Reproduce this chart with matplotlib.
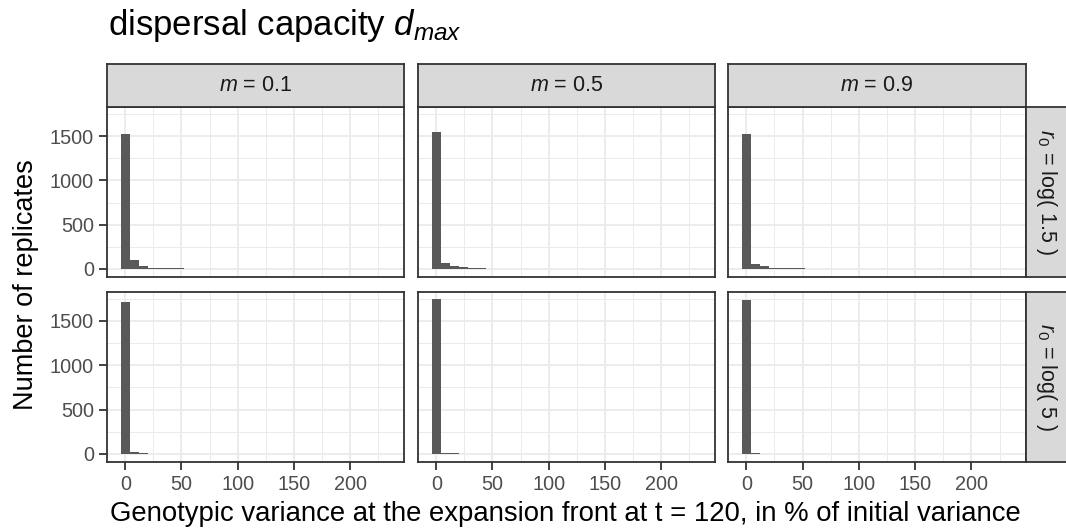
import numpy as np
import matplotlib
matplotlib.use("Agg")
import matplotlib.pyplot as plt

plt.rcParams["font.family"] = ["Liberation Sans", "DejaVu Sans"]
plt.rcParams["mathtext.fontset"] = "custom"
plt.rcParams["mathtext.rm"] = "Liberation Sans"
plt.rcParams["mathtext.it"] = "Liberation Sans:italic"

# --- data ---
bin_width = 8
bin_centers = np.arange(30) * bin_width  # 0, 8, ..., 232

m_labels = [r"$m$ = 0.1", r"$m$ = 0.5", r"$m$ = 0.9"]
r0_labels = [r"$r_{\mathit{0}}$ = log( 1.5 )", r"$r_{\mathit{0}}$ = log( 5 )"]

# counts per bin, row = r0, column = m
top_m01 = [1521, 96, 29, 8, 6, 5, 4, 3, 3, 2, 3, 2, 2] + [0] * 17
top_m05 = [1547, 70, 37, 15, 8, 4, 3, 2, 2, 2, 2, 0, 0, 2, 1, 1, 1, 1, 0, 1, 1] + [0] * 9
top_m09 = [1529, 59, 33, 12, 4, 5, 4, 3, 0, 2, 3, 2, 0, 1, 0, 2, 1] + [0] * 12 + [1]
bot_m01 = [1710, 19, 8] + [0] * 27
bot_m05 = [1744, 8, 8, 0, 4, 4] + [0] * 24
bot_m09 = [1736, 6, 0, 0, 3, 0, 3, 3] + [0] * 22

counts = [[top_m01, top_m05, top_m09],
          [bot_m01, bot_m05, bot_m09]]

x_ticks = [0, 50, 100, 150, 200]
y_ticks = [0, 500, 1000, 1500]

title = "dispersal capacity $d_{max}$"
x_title = "Genotypic variance at the expansion front at t = 120, in % of initial variance"
y_title = "Number of replicates"

# --- layout in pixels ---
W, H = 1066, 528
col_x = [(107.3, 404.0), (418.3, 715.0), (728.3, 1025.5)]
row_y = [(107.0, 276.5), (291.5, 461.7)]
strip_top = (64.0, 107.0)
strip_right = (1025.5, 1068.0)


def rect(x0, y0, x1, y1):
    return [x0 / W, 1 - y1 / H, (x1 - x0) / W, (y1 - y0) / H]


fig = plt.figure(figsize=(W / 100, H / 100), dpi=100)

ymax = max(max(c) for row in counts for c in row)
lo_x = bin_centers[0] - bin_width / 2
hi_x = bin_centers[-1] + bin_width / 2
pad_x = 0.05 * (hi_x - lo_x)
xlim = (lo_x - pad_x, hi_x + pad_x)
ylim = (-0.05 * ymax, 1.05 * ymax)

for i, (y0, y1) in enumerate(row_y):
    for j, (x0, x1) in enumerate(col_x):
        ax = fig.add_axes(rect(x0, y0, x1, y1))
        ax.set_facecolor("white")
        ax.set_xlim(*xlim)
        ax.set_ylim(*ylim)
        ax.set_xticks(x_ticks)
        ax.set_yticks(y_ticks)
        ax.set_xticks([25, 75, 125, 175, 225], minor=True)
        ax.set_yticks([250, 750, 1250, 1750], minor=True)
        ax.grid(True, which="major", color="#EBEBEB", lw=1.3)
        ax.grid(True, which="minor", color="#EBEBEB", lw=0.7)
        ax.set_axisbelow(True)
        ax.bar(bin_centers, counts[i][j], width=bin_width, color="#595959",
               edgecolor="none", zorder=2)
        for s in ax.spines.values():
            s.set_color("#333333")
            s.set_linewidth(1.3)
            s.set_zorder(5)
        ax.tick_params(which="minor", length=0)
        ax.tick_params(which="major", length=6, width=1.3, color="#333333",
                       labelsize=14.3, labelcolor="#4D4D4D", pad=3.5)
        if i == 0:
            ax.tick_params(axis="x", which="major", length=0, labelbottom=False)
        if j > 0:
            ax.tick_params(axis="y", which="major", length=0, labelleft=False)

# column strips
for j, (x0, x1) in enumerate(col_x):
    sax = fig.add_axes(rect(x0, strip_top[0], x1, strip_top[1]))
    sax.set_facecolor("#D9D9D9")
    sax.set_xticks([])
    sax.set_yticks([])
    for s in sax.spines.values():
        s.set_color("#333333")
        s.set_linewidth(1.3)
    sax.text(0.5, 0.5, m_labels[j], transform=sax.transAxes, ha="center",
             va="center", fontsize=15.5, color="#1A1A1A")

# row strips
for i, (y0, y1) in enumerate(row_y):
    sax = fig.add_axes(rect(strip_right[0], y0, strip_right[1], y1))
    sax.set_facecolor("#D9D9D9")
    sax.set_xticks([])
    sax.set_yticks([])
    for s in sax.spines.values():
        s.set_color("#333333")
        s.set_linewidth(1.3)
    sax.text(0.5, 0.5, r0_labels[i], transform=sax.transAxes, ha="center",
             va="center", rotation=-90, fontsize=15.5, color="#1A1A1A")

fig.text(108 / W, 1 - 35 / H, title, ha="left", va="baseline", fontsize=25,
         color="black")
fig.text(565 / W, 1 - 521 / H, x_title, ha="center", va="baseline",
         fontsize=19.8, color="black")
fig.text(33 / W, 1 - 284.5 / H, y_title, ha="center", va="baseline",
         rotation=90, rotation_mode="anchor", fontsize=19.5, color="black")

fig.savefig("out.png", dpi=100)
